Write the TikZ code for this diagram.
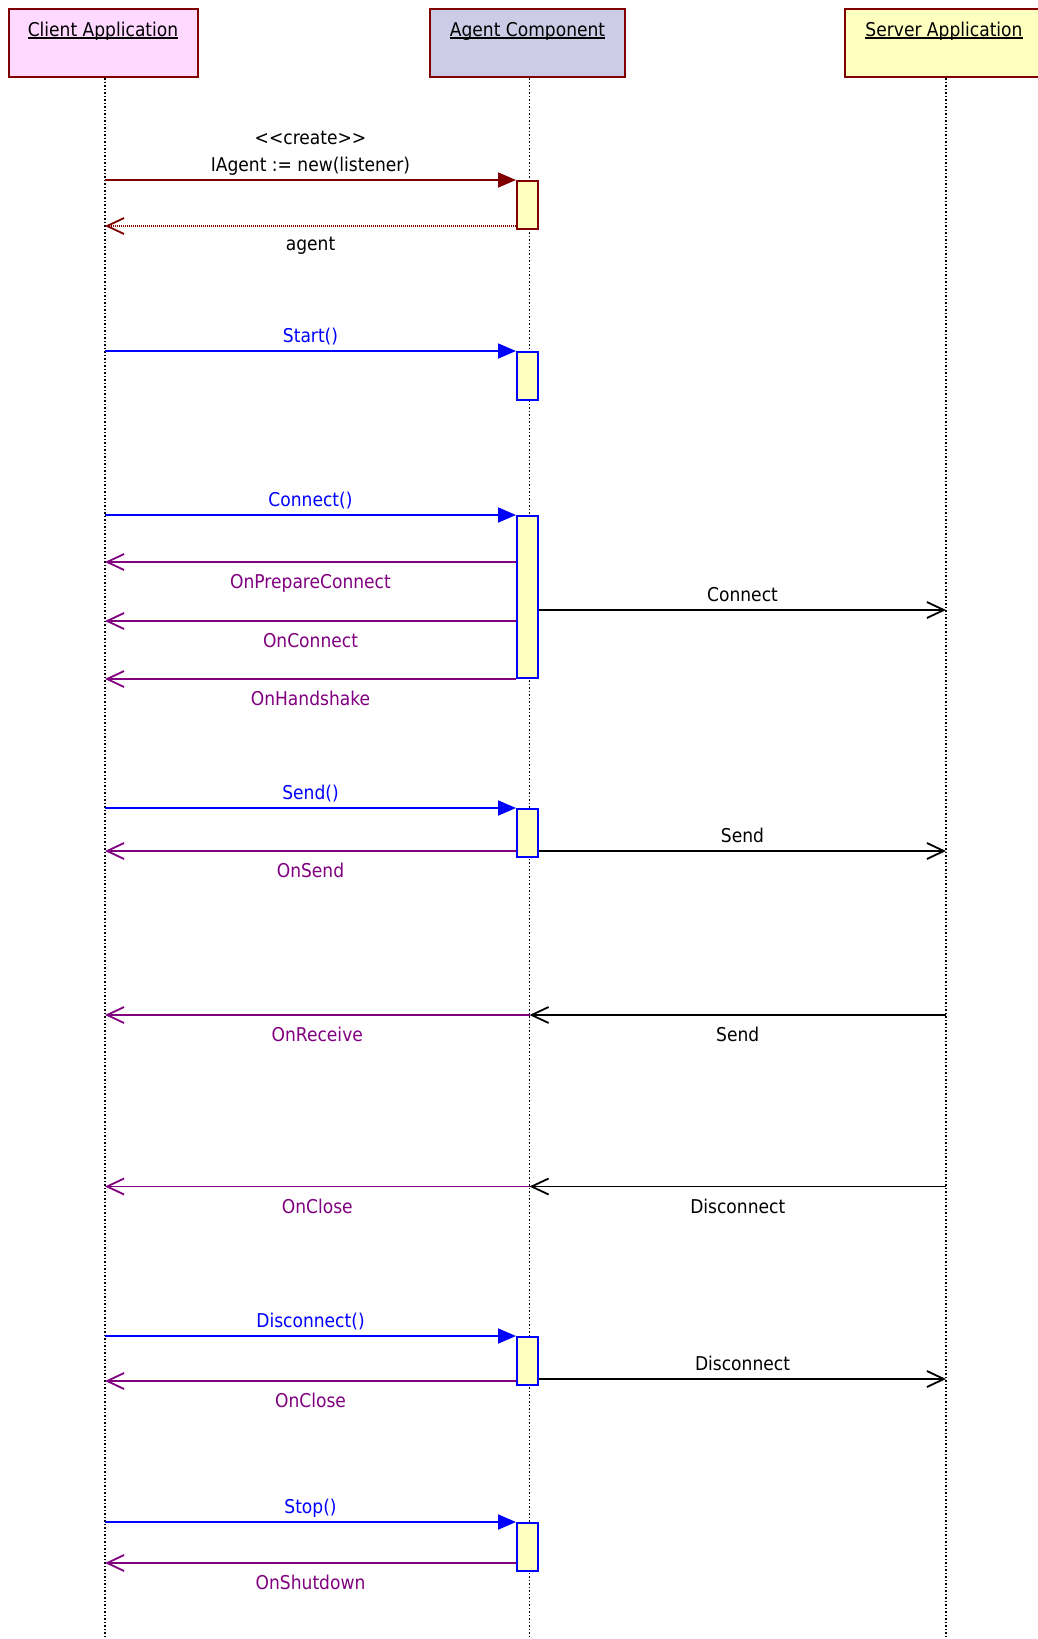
\documentclass[tikz,border=0pt]{standalone}
\usepackage{fontspec}
\setmainfont{DejaVu Sans}[FakeStretch=0.9]
\usepackage{xcolor}
\usepackage{tikz}
\usetikzlibrary{arrows.meta,positioning}

\definecolor{umlred}{HTML}{800000}
\definecolor{umlblue}{HTML}{0000FF}
\definecolor{umlpurple}{HTML}{800080}
\definecolor{clientpink}{HTML}{FFD9FF}
\definecolor{agentlilac}{HTML}{CCCCE6}
\definecolor{serveryellow}{HTML}{FFFFC0}
\definecolor{actyellow}{HTML}{FFFFC0}

\newcommand{\headul}[1]{\setbox0\hbox{#1}\rlap{\rule[-1.8pt]{\wd0}{1.2pt}}\box0}

\begin{document}
\begin{tikzpicture}[
    x=1pt, y=-1pt,
    font=\fontsize{19pt}{26.7pt}\selectfont,
    actor/.style={rectangle, draw=umlred, line width=2pt, anchor=north, inner xsep=0pt, inner ysep=13.3pt, text height=14pt, text depth=27.4pt},
    lifeline/.style={line width=1.3pt, dash pattern=on 1.4pt off 2.1pt},
    activation/.style={rectangle, draw=#1, fill=actyellow, line width=2pt, minimum width=21pt, anchor=north, inner sep=0pt},
    call/.style={color=#1, line width=1.8pt, -{Triangle[length=18pt,width=15pt]}},
    reply/.style={color=#1, line width=1.8pt, -{Straight Barb[length=17pt,width=16pt]}},
    lblup/.style={midway, anchor=base, yshift=9pt, inner sep=0pt},
    lbldn/.style={midway, anchor=base, yshift=-26.5pt, inner sep=0pt}
]
\useasboundingbox (0,0) rectangle (1037,1639);

% Participants
\node[actor, fill=clientpink, minimum width=189pt] (client) at (103,8.4) {\headul{Client Application}};
\node[actor, fill=agentlilac, minimum width=195pt] (agent) at (527.5,8.4) {\headul{Agent Component}};
\node[actor, fill=serveryellow, minimum width=198pt] (server) at (944,8.4) {\headul{Server Application}};

% Lifelines
\coordinate (bottom) at (0,1639);
\foreach \n in {client,agent,server} {
    \coordinate (\n L) at ([xshift=2pt]\n.south);
    \draw[lifeline] (\n L) -- (\n L |- bottom);
}

% Create
\node[activation=umlred, minimum height=48pt] (act1) at (agent.south |- 0,180) {};
\draw[call=umlred] (clientL |- act1.north) -- (act1.north west)
    node[lblup, text=black] {IAgent := new(listener)}
    node[lblup, text=black, yshift=26.7pt] {<{}<create>{}>};
\draw[reply=umlred, dash pattern=on 1pt off 1pt] (act1.west |- 0,226) -- (clientL |- 0,226)
    node[lbldn, text=black, yshift=2.5pt] {agent};

% Start
\node[activation=umlblue, minimum height=48pt] (act2) at (agent.south |- 0,351) {};
\draw[call=umlblue] (clientL |- act2.north) -- (act2.north west) node[lblup] {Start()};

% Connect
\node[activation=umlblue, minimum height=162pt] (act3) at (agent.south |- 0,515) {};
\draw[call=umlblue] (clientL |- act3.north) -- (act3.north west) node[lblup] {Connect()};
\draw[reply=umlpurple] (act3.west |- 0,562) -- (clientL |- 0,562) node[lbldn] {OnPrepareConnect};
\draw[reply=black] (act3.east |- 0,610) -- (serverL |- 0,610) node[lblup] {Connect};
\draw[reply=umlpurple] (act3.west |- 0,621) -- (clientL |- 0,621) node[lbldn] {OnConnect};
\draw[reply=umlpurple] (act3.south west) -- (clientL |- act3.south) node[lbldn] {OnHandshake};

% Send
\node[activation=umlblue, minimum height=48pt] (act4) at (agent.south |- 0,808) {};
\draw[call=umlblue] (clientL |- act4.north) -- (act4.north west) node[lblup] {Send()};
\draw[reply=umlpurple] (act4.west |- 0,851) -- (clientL |- 0,851) node[lbldn] {OnSend};
\draw[reply=black] (act4.east |- 0,851) -- (serverL |- 0,851) node[lblup] {Send};

% Receive
\draw[reply=black] (serverL |- 0,1015) -- (agentL |- 0,1015) node[lbldn] {Send};
\draw[reply=umlpurple] (agentL |- 0,1015) -- (clientL |- 0,1015) node[lbldn] {OnReceive};

% Server closes
\draw[reply=black] (serverL |- 0,1186.5) -- (agentL |- 0,1186.5) node[lbldn] {Disconnect};
\draw[reply=umlpurple] (agentL |- 0,1186.5) -- (clientL |- 0,1186.5) node[lbldn] {OnClose};

% Disconnect
\node[activation=umlblue, minimum height=48pt] (act5) at (agent.south |- 0,1336) {};
\draw[call=umlblue] (clientL |- act5.north) -- (act5.north west) node[lblup] {Disconnect()};
\draw[reply=umlpurple] (act5.west |- 0,1381) -- (clientL |- 0,1381) node[lbldn] {OnClose};
\draw[reply=black] (act5.east |- 0,1379) -- (serverL |- 0,1379) node[lblup] {Disconnect};

% Stop
\node[activation=umlblue, minimum height=48pt] (act6) at (agent.south |- 0,1522) {};
\draw[call=umlblue] (clientL |- act6.north) -- (act6.north west) node[lblup] {Stop()};
\draw[reply=umlpurple] (act6.west |- 0,1563) -- (clientL |- 0,1563) node[lbldn] {OnShutdown};

\end{tikzpicture}
\end{document}
